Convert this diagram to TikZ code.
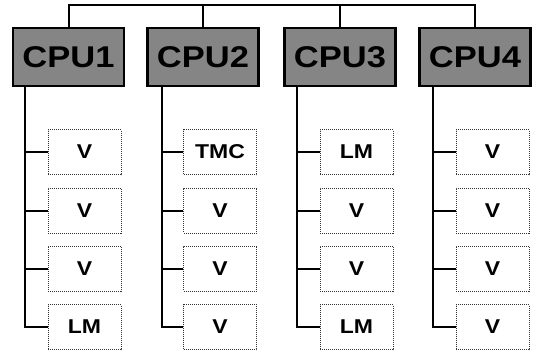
\documentclass[tikz,border=0pt]{standalone}
\usepackage{fontspec}
\setmainfont{Liberation Sans}
\newfontfamily\cpufont[FakeStretch=1.15]{Liberation Sans}
\usetikzlibrary{calc}

\tikzset{
  cpubox/.style={draw, line width=2.5pt, fill=black!48, minimum width=111pt,
    minimum height=58pt, inner sep=0pt, font=\cpufont\bfseries\fontsize{30}{30}\selectfont},
  leafbox/.style={draw=black!80, densely dotted, line width=1pt, minimum width=73pt,
    minimum height=45pt, inner sep=0pt, font=\cpufont\bfseries\fontsize{20}{20}\selectfont},
  wire/.style={line width=2pt},
  spine/.style={line width=2.6pt}
}

\begin{document}
\begin{tikzpicture}[x=1pt, y=-1pt]

\useasboundingbox (0,0) rectangle (539,354);

% Processors
\foreach \i/\x in {1/68.5, 2/203, 3/340, 4/475}
  \node[cpubox] (cpu\i) at (\x,57) {CPU\i};

% Bus over the processors
\coordinate (bus) at (0,5);
\draw[wire] (cpu1.north) |- (bus -| cpu4.north) -- (cpu4.north);
\draw[wire] (cpu2.north) -- (bus -| cpu2.north);
\draw[wire] (cpu3.north) -- (bus -| cpu3.north);

% Boards below each processor
\foreach \i/\x/\s/\a/\b/\c/\d in {1/84.5/25/V/V/V/LM, 2/220/162/TMC/V/V/V,
    3/356.5/297/LM/V/V/LM, 4/492.5/433/V/V/V/V} {
  \node[leafbox] (b\i1) at (\x,152) {\a};
  \node[leafbox] (b\i2) at (\x,210.5) {\b};
  \node[leafbox] (b\i3) at (\x,268.5) {\c};
  \node[leafbox] (b\i4) at (\x,327) {\d};
  \coordinate (s\i) at (\s,0);
  \draw[spine] (s\i |- cpu\i.south) |- (b\i4.west);
  \draw[wire] (b\i1.west) -- (b\i1.west -| s\i);
  \draw[wire] (b\i2.west) -- (b\i2.west -| s\i);
  \draw[wire] (b\i3.west) -- (b\i3.west -| s\i);
}

\end{tikzpicture}
\end{document}
